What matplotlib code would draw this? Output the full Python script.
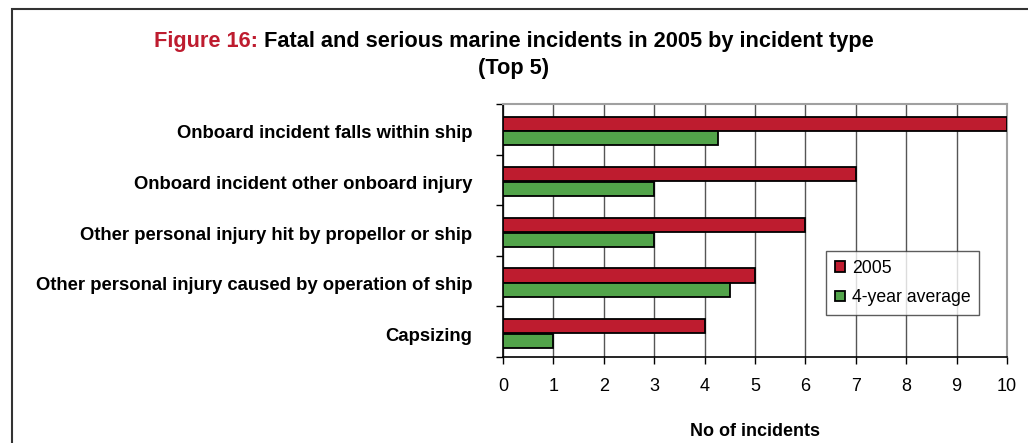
import numpy as np
import matplotlib
matplotlib.use("Agg")
import matplotlib.pyplot as plt
from matplotlib.patches import Rectangle

plt.rcParams['font.family'] = ['Liberation Sans', 'DejaVu Sans']

categories = ["Onboard incident falls within ship",
              "Onboard incident other onboard injury",
              "Other personal injury hit by propellor or ship",
              "Other personal injury caused by operation of ship",
              "Capsizing"]
values_2005 = [10, 7, 6, 5, 4]
values_avg = [4.27, 3, 3, 4.5, 1]
series_names = ["2005", "4-year average"]
title_prefix = "Figure 16: "
title_main = "Fatal and serious marine incidents in 2005 by incident type"
title_sub = "(Top 5)"

red = '#be1c2f'
green = '#52a44a'

fig = plt.figure(figsize=(10.28, 4.43), dpi=100)
# outer frame of the figure box
fig.patches.append(Rectangle((12 / 1028, -0.05), 1.0, 1 - 9 / 443 + 0.05,
                             transform=fig.transFigure, fill=False,
                             edgecolor='#333333', lw=1.5))

ax = fig.add_axes([503 / 1028, 1 - 357 / 443, 504 / 1028, 253 / 443])

y = np.arange(len(categories))
h = 0.28
ax.barh(y - 0.11, values_2005, height=h, color=red, edgecolor='black',
        lw=1.3, label=series_names[0], zorder=3)
ax.barh(y + 0.18, values_avg, height=h, color=green, edgecolor='black',
        lw=1.3, label=series_names[1], zorder=3)

ax.set_xlim(0, 10)
ax.set_ylim(len(categories) - 0.5, -0.5)
ax.set_xticks(range(0, 11))
ax.tick_params(axis='x', labelsize=13, length=5, width=1, direction='out', pad=10)
ax.grid(axis='x', color='#555555', lw=1, zorder=0)

ax.set_yticks(y + 0.05)
ax.set_yticklabels(categories, fontweight='bold', fontsize=13.3)
ax.set_yticks(np.arange(-0.5, len(categories)), minor=True)
ax.tick_params(axis='y', which='major', length=0, pad=22)
ax.tick_params(axis='y', which='minor', length=5, width=1, direction='out')

for side in ['top', 'right']:
    ax.spines[side].set_color('#a0a0a0')
    ax.spines[side].set_linewidth(1.5)
for side in ['left', 'bottom']:
    ax.spines[side].set_color('black')
    ax.spines[side].set_linewidth(1.2)

ax.set_xlabel("No of incidents", fontweight='bold', fontsize=13, labelpad=20)

leg = ax.legend(loc='upper left', bbox_to_anchor=(0.641, 0.419), fontsize=12.7,
                frameon=True, fancybox=False, edgecolor='#333333',
                handlelength=0.55, handleheight=0.55, handletextpad=0.4,
                labelspacing=0.7, borderpad=0.5, borderaxespad=0)
leg.get_frame().set_linewidth(1)

# two-colour title line: measure full line, then place red prefix and black rest
tsize = 15.7
full = fig.text(0.5, 0.907, title_prefix + title_main, fontsize=tsize,
                fontweight='bold', ha='center', va='center', alpha=0)
r = fig.canvas.get_renderer()
fb = full.get_window_extent(r)
pre = fig.text(fb.x0 / fig.bbox.width, 0.907, title_prefix, color=red,
               fontsize=tsize, fontweight='bold', va='center')
pb = pre.get_window_extent(r)
fig.text(pb.x1 / fig.bbox.width, 0.907, title_main, fontsize=tsize,
         fontweight='bold', va='center')
fig.text(0.5, 0.845, title_sub, fontsize=tsize, fontweight='bold',
         ha='center', va='center')

fig.savefig("out.png", dpi=100)
